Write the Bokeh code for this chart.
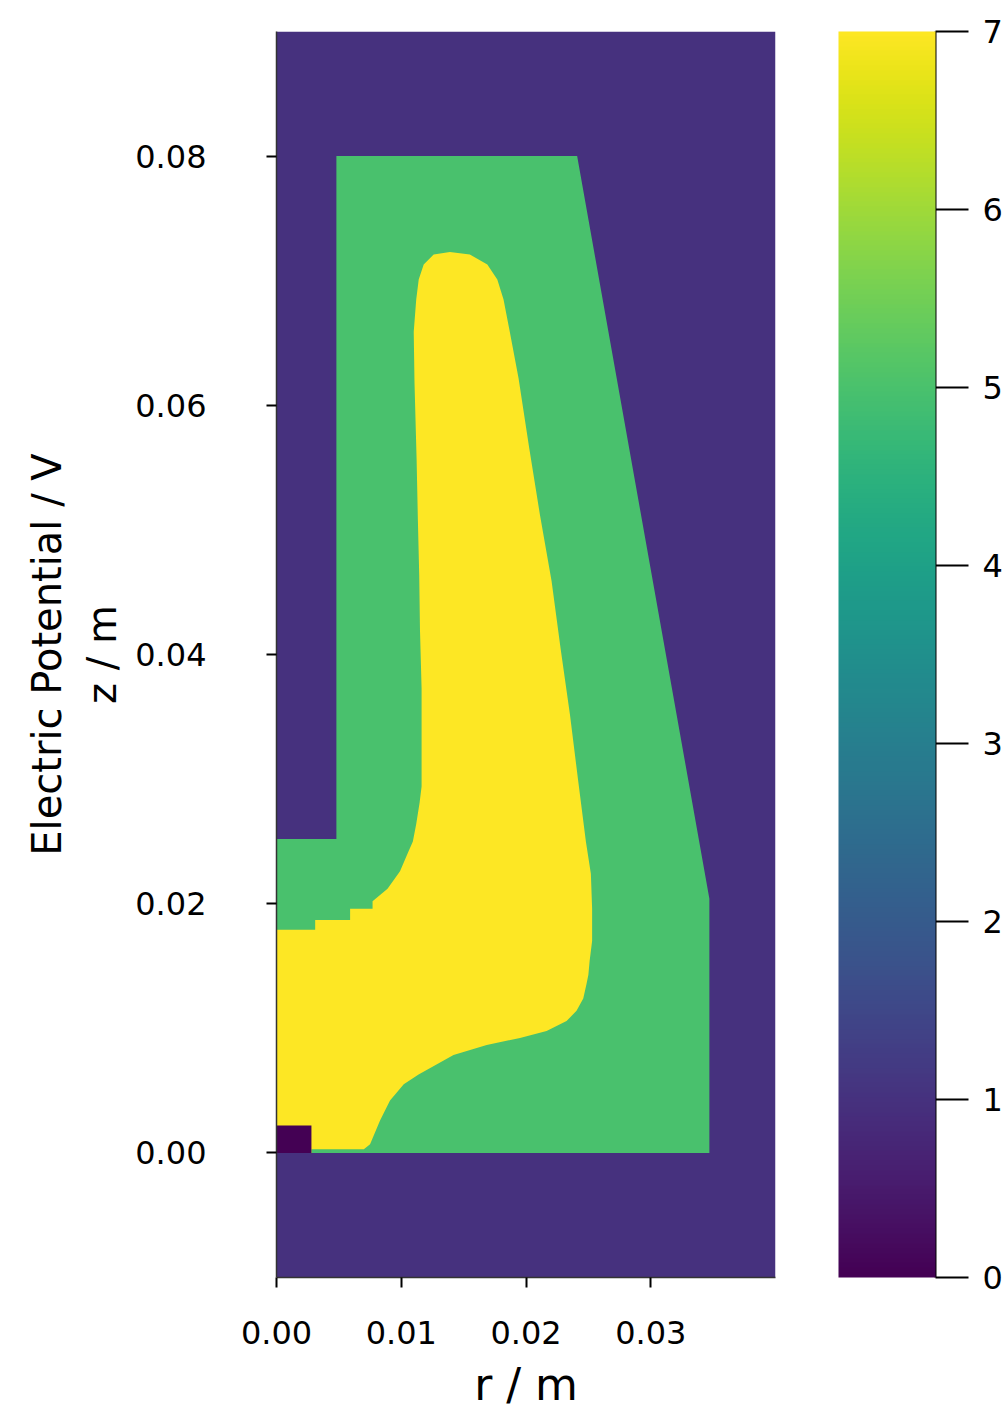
from bokeh.plotting import figure
from bokeh.models import (ColumnDataSource, LinearColorMapper, ColorBar, FixedTicker,
                          NumeralTickFormatter, LinearAxis, Range1d)
from bokeh.palettes import Viridis256
from bokeh.transform import transform
from bokeh.embed import file_html
from bokeh.resources import INLINE

# ---- data (r in m, z in m, potential in V) ----
domain_r = [0.0, 0.04, 0.04, 0.0]
domain_z = [-0.01, -0.01, 0.09, 0.09]
domain_v = 1.0

green_r = [0.0, 0.0347, 0.0347, 0.0241, 0.0048, 0.0048, 0.0]
green_z = [0.0, 0.0, 0.0204, 0.0800, 0.0800, 0.0252, 0.0252]
green_v = 5.0

yellow_r = [0.0, 0.0031, 0.0031, 0.0059, 0.0059, 0.0077,
            0.0077, 0.0089, 0.0099, 0.0105, 0.01093, 0.0112, 0.01147, 0.01163,
            0.01163, 0.0115, 0.01144, 0.01133, 0.01123, 0.01106, 0.0110, 0.0112,
            0.0114, 0.0118, 0.0126, 0.0139, 0.0155, 0.0169, 0.0177, 0.0182,
            0.0187, 0.0194, 0.02027, 0.02112, 0.02205, 0.02277, 0.02352, 0.02419,
            0.0248, 0.0252, 0.0253, 0.0253, 0.0251, 0.0250, 0.02485, 0.02459,
            0.02405, 0.02325, 0.02165, 0.01952, 0.01685, 0.01419, 0.01139, 0.0102,
            0.0091, 0.0083, 0.0075, 0.0070, 0.0028, 0.0028, 0.0]
yellow_z = [0.0179, 0.0179, 0.0187, 0.0187, 0.0196, 0.0196,
            0.0202, 0.0212, 0.0226, 0.0240, 0.0250, 0.0264, 0.0281, 0.0294,
            0.0373, 0.0420, 0.0464, 0.0509, 0.0557, 0.0619, 0.0659, 0.0685,
            0.0701, 0.0713, 0.0721, 0.0723, 0.0721, 0.0713, 0.0701, 0.0685,
            0.0659, 0.0622, 0.0565, 0.0512, 0.0459, 0.0405, 0.0352, 0.0298,
            0.0250, 0.0224, 0.0196, 0.0170, 0.0154, 0.0143, 0.01355, 0.0124,
            0.0114, 0.01058, 0.00978, 0.00922, 0.00866, 0.00785, 0.0063, 0.0055,
            0.0042, 0.0026, 0.0007, 0.0003, 0.0003, 0.0, 0.0]
yellow_v = 7.0

electrode_r = [0.0, 0.0028, 0.0028, 0.0]
electrode_z = [0.0, 0.0, 0.0022, 0.0022]
electrode_v = 0.0

r_ticks = [0.0, 0.01, 0.02, 0.03]
z_ticks = [0.0, 0.02, 0.04, 0.06, 0.08]
cbar_ticks = [0, 1, 2, 3, 4, 5, 6, 7]
v_low, v_high = 0.0, 7.0

FONT = "DejaVu Sans"

source = ColumnDataSource(dict(
    xs=[domain_r, green_r, yellow_r, electrode_r],
    ys=[domain_z, green_z, yellow_z, electrode_z],
    v=[domain_v, green_v, yellow_v, electrode_v],
))

mapper = LinearColorMapper(palette=Viridis256, low=v_low, high=v_high)

p = figure(x_range=(0.0, 0.04), y_range=(-0.01, 0.09),
           frame_width=499, frame_height=1246,
           output_backend="svg", toolbar_location=None,
           min_border_left=276, min_border_top=31, min_border_bottom=10, min_border_right=0)
p.extra_y_ranges = {"cbar": Range1d(v_low, v_high)}

p.patches("xs", "ys", source=source, fill_color=transform("v", mapper),
          line_color=None)

p.grid.visible = False
p.outline_line_color = None
p.background_fill_color = "white"

for ax in (p.xaxis[0], p.yaxis[0]):
    ax.major_tick_in = 0
    ax.major_tick_out = 10
    ax.major_tick_line_width = 2
    ax.minor_tick_line_color = None
    ax.major_label_text_font = FONT
    ax.axis_label_text_font = FONT
    ax.major_label_text_font_size = "32px"
    ax.axis_label_text_font_style = "normal"
    ax.axis_line_color = "#333333"
    ax.axis_line_width = 1.5
    ax.major_tick_line_color = "black"
    ax.major_label_text_color = "black"
    ax.axis_label_text_color = "black"
    ax.formatter = NumeralTickFormatter(format="0.00")

p.xaxis.ticker = FixedTicker(ticks=r_ticks)
p.yaxis.ticker = FixedTicker(ticks=z_ticks)
p.xaxis.axis_label = "r / m"
p.yaxis.axis_label = "Electric Potential / V\nz / m"
p.xaxis.axis_label_text_font_size = "44px"
p.yaxis.axis_label_text_font_size = "40px"
p.yaxis.major_label_standoff = 60
p.xaxis.major_label_standoff = 33
p.yaxis.axis_label_standoff = 7
p.xaxis.axis_label_standoff = 12

# invisible spacer axis between frame and colour bar
spacer = LinearAxis(y_range_name="cbar", ticker=FixedTicker(ticks=[v_low]),
                    major_tick_out=63, major_tick_in=0, axis_line_color=None,
                    major_tick_line_color=None, minor_tick_line_color=None,
                    major_label_standoff=0, major_label_text_font_size="1px",
                    major_label_text_alpha=0.0)
p.add_layout(spacer, "right")

cb = ColorBar(color_mapper=mapper, ticker=FixedTicker(ticks=[]),
              width=97, height=1246, padding=0, margin=0,
              major_tick_in=0, major_tick_out=0, label_standoff=0,
              major_tick_line_color=None, minor_tick_line_color=None,
              bar_line_color=None, border_line_color=None,
              background_fill_color=None)
p.add_layout(cb, "right")

cb_axis = LinearAxis(y_range_name="cbar", ticker=FixedTicker(ticks=cbar_ticks),
                     major_tick_out=33, major_tick_in=0, axis_line_color="black",
                     axis_line_width=2, major_tick_line_width=2,
                     major_tick_line_color="black", minor_tick_line_color=None,
                     major_label_standoff=14, major_label_text_font=FONT,
                     major_label_text_font_size="32px", major_label_text_color="black")
p.add_layout(cb_axis, "right")

open("out.html", "w").write(file_html(p, INLINE))
